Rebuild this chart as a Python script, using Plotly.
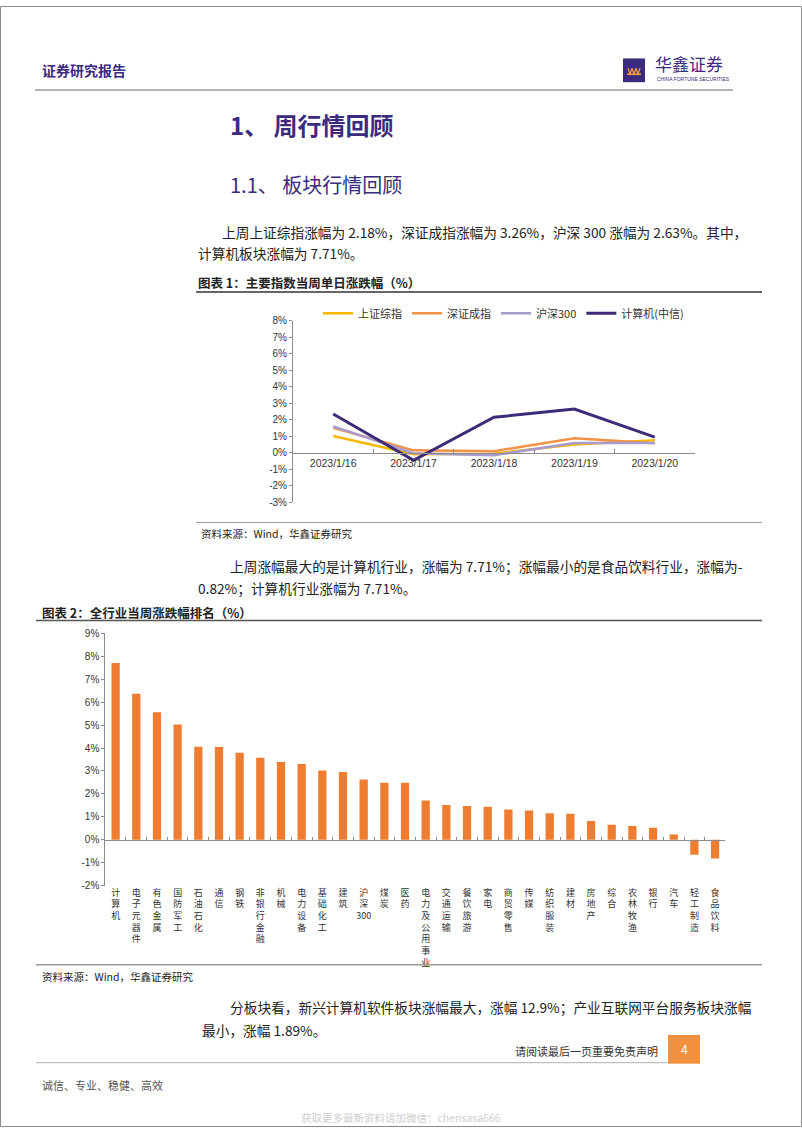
import plotly.graph_objects as go

W, H = 802, 1133


def px(x):
    return x / W


def py(y):
    return 1 - y / H


# ---------------- data ----------------
dates = ["2023/1/16", "2023/1/17", "2023/1/18", "2023/1/19", "2023/1/20"]
sh_composite = [1.02, -0.08, -0.05, 0.50, 0.76]
sz_component = [1.52, 0.15, 0.10, 0.88, 0.58]
csi300 = [1.60, -0.02, -0.15, 0.60, 0.60]
computer_citic = [2.35, -0.45, 2.15, 2.65, 0.95]

line_tick_vals = [8, 7, 6, 5, 4, 3, 2, 1, 0, -1, -2, -3]
line_tick_text = ["8%", "7%", "6%", "5%", "4%", "3%", "2%", "1%", "0%", "-1%", "-2%", "-3%"]

industries = ["计算机", "电子元器件", "有色金属", "国防军工", "石油石化", "通信", "钢铁",
              "非银行金融", "机械", "电力设备", "基础化工", "建筑", "沪深300", "煤炭", "医药",
              "电力及公用事业", "交通运输", "餐饮旅游", "家电", "商贸零售", "传媒", "纺织服装",
              "建材", "房地产", "综合", "农林牧渔", "银行", "汽车", "轻工制造", "食品饮料"]
weekly_change = [7.71, 6.37, 5.56, 5.03, 4.05, 4.04, 3.79, 3.58, 3.39, 3.30, 3.02, 2.96,
                 2.63, 2.49, 2.49, 1.71, 1.52, 1.47, 1.44, 1.32, 1.28, 1.16, 1.14, 0.82,
                 0.66, 0.60, 0.53, 0.23, -0.65, -0.82]

bar_tick_vals = [9, 8, 7, 6, 5, 4, 3, 2, 1, 0, -1, -2]
bar_tick_text = ["9%", "8%", "7%", "6%", "5%", "4%", "3%", "2%", "1%", "0%", "-1%", "-2%"]


def vertical_label(name):
    parts, buf = [], ""
    for ch in name:
        if ch.isdigit():
            buf += ch
        else:
            if buf:
                parts.append(buf)
                buf = ""
            parts.append(ch)
    if buf:
        parts.append(buf)
    return "<br>".join(parts)


industry_labels = [vertical_label(n) for n in industries]

# ---------------- styles ----------------
CJK = "Noto Sans CJK SC"
NUM = "Liberation Sans, Arial, sans-serif"
PURPLE = "#3B2A7E"
AXIS = "#8C8C8C"
TXT = "#222222"

fig = go.Figure()

# chart 1 lines
series = [
    ("上证综指", sh_composite, "#F5B800", 2.5),
    ("深证成指", sz_component, "#F39146", 2.5),
    ("沪深300", csi300, "#A79BCF", 2.5),
    ("计算机(中信)", computer_citic, "#3D2A78", 3),
]
for name, vals, color, w in series:
    fig.add_trace(go.Scatter(x=dates, y=vals, mode="lines", name=name,
                             line=dict(color=color, width=w),
                             xaxis="x", yaxis="y", hoverinfo="skip"))

# chart 2 bars
fig.add_trace(go.Bar(x=industry_labels, y=weekly_change, marker=dict(color="#EE7D31", line_width=0),
                     xaxis="x2", yaxis="y2", showlegend=False, hoverinfo="skip"))

# ---------------- layout ----------------
shapes = []


def hline(x0, x1, y, color, width=1):
    shapes.append(dict(type="line", xref="paper", yref="paper", x0=px(x0), x1=px(x1),
                       y0=py(y), y1=py(y), line=dict(color=color, width=width)))


# page frame
shapes.append(dict(type="rect", xref="paper", yref="paper", x0=px(0.5), x1=px(801.5),
                   y0=py(1132.5), y1=py(0.5), line=dict(color="#8a8a8a", width=1)))
hline(35, 733, 85, "#9a9a9a", 1.5)
hline(196, 762, 289, "#333333", 1.5)
hline(196, 762, 522, "#9a9a9a", 1)
hline(36, 762, 621, "#555555", 1.5)
hline(36, 762, 969, "#9a9a9a", 1.5)
hline(36, 668, 1068, "#b0b0b0", 1)
# page number box
shapes.append(dict(type="rect", xref="paper", yref="paper", x0=px(668), x1=px(700),
                   y0=py(1069), y1=py(1040), fillcolor="#F2913F", line=dict(width=0)))
# logo square
shapes.append(dict(type="rect", xref="paper", yref="paper", x0=px(623), x1=px(645),
                   y0=py(77), y1=py(53), fillcolor="#3B2A7D", line=dict(width=0)))


def P(x, y):
    return f"{px(x):.5f},{py(y):.5f}"


logo_path = ("M" + P(627, 69) + "L" + P(641, 69) +
             "M" + P(628, 63) + "L" + P(630, 69) + "L" + P(632, 63) +
             "M" + P(632, 63) + "L" + P(634, 69) + "L" + P(636, 63) +
             "M" + P(636, 63) + "L" + P(638, 69) + "L" + P(640, 63))
shapes.append(dict(type="path", xref="paper", yref="paper", path=logo_path,
                   line=dict(color="#F29A3A", width=1.3)))

annotations = []


def text(x, y, s, size, color=TXT, anchor="left", family=CJK, weight=None):
    f = dict(family=family, size=size, color=color)
    if weight:
        f["weight"] = weight
    annotations.append(dict(x=px(x), y=py(y), xref="paper", yref="paper", text=s,
                            showarrow=False, xanchor=anchor, yanchor="middle", font=f))


text(40, 65, "证券研究报告", 14, PURPLE, weight="bold")
text(653, 58, "华鑫证券", 17, PURPLE)
text(655, 73.5, "CHINA FORTUNE SECURITIES", 5, PURPLE, family=NUM)
text(228, 120, "1、 周行情回顾", 24, PURPLE, weight="bold")
text(228, 180, "1.1、 板块行情回顾", 20, PURPLE)
text(220, 228, "上周上证综指涨幅为 2.18%，深证成指涨幅为 3.26%，沪深 300 涨幅为 2.63%。其中，", 13.7)
text(196, 250, "计算机板块涨幅为 7.71%。", 13.7)
text(196, 279, "图表 1：主要指数当周单日涨跌幅（%）", 12.5, weight="bold")
text(199, 533, "资料来源：Wind，华鑫证券研究", 10.5)
text(228, 566, "上周涨幅最大的是计算机行业，涨幅为 7.71%；涨幅最小的是食品饮料行业，涨幅为-", 13.7)
text(196, 588, "0.82%；计算机行业涨幅为 7.71%。", 13.7)
text(40, 613, "图表 2：全行业当周涨跌幅排名（%）", 12.5, weight="bold")
text(40, 981, "资料来源：Wind，华鑫证券研究", 10.5)
text(228, 1012, "分板块看，新兴计算机软件板块涨幅最大，涨幅 12.9%；产业互联网平台服务板块涨幅", 13.7)
text(200, 1035, "最小，涨幅 1.89%。", 13.7)
text(660, 1056, "请阅读最后一页重要免责声明", 11, "#333333", anchor="right")
text(684, 1055, "4", 12, "#ffffff", anchor="center", family=NUM)
text(40, 1091, "诚信、专业、稳健、高效", 11, "#555555")
text(401, 1123, "获取更多最新资料请加微信：chensasa666", 10.5, "#cfcfcf", anchor="center")

fig.update_layout(
    width=W, height=H, autosize=False,
    margin=dict(l=0, r=0, t=0, b=0),
    paper_bgcolor="white", plot_bgcolor="white",
    shapes=shapes, annotations=annotations,
    bargap=0.6,
    legend=dict(orientation="h", x=px(318), y=py(296), xanchor="left", yanchor="top",
                font=dict(family=CJK, size=11, color="#333333"), bgcolor="rgba(0,0,0,0)",
                itemwidth=30, tracegroupgap=0),
    xaxis=dict(domain=[px(293), px(695)], type="category", range=[-0.5, 4.5],
               anchor="free", position=py(451.7), showline=True, linecolor=AXIS, linewidth=1,
               ticks="inside", tickson="boundaries", ticklen=4, tickcolor=AXIS,
               showgrid=False, zeroline=False,
               tickfont=dict(family=NUM, size=10.5, color="#333333")),
    yaxis=dict(domain=[py(501.7), py(318)], range=[-3, 8], anchor="x",
               showline=True, linecolor=AXIS, linewidth=1, ticks="outside", ticklen=3,
               tickcolor=AXIS, tickvals=line_tick_vals, ticktext=line_tick_text,
               showgrid=False, zeroline=False,
               tickfont=dict(family=NUM, size=10, color="#333333")),
    xaxis2=dict(domain=[px(105.3), px(725.4)], type="category", range=[-0.5, 29.5],
                anchor="free", position=py(842.7), showline=True, linecolor=AXIS, linewidth=1,
                ticks="inside", tickson="boundaries", ticklen=3, tickcolor=AXIS,
                showgrid=False, zeroline=False, tickangle=0, ticklabelstandoff=44,
                tickfont=dict(family=CJK, size=9, color="#333333")),
    yaxis2=dict(domain=[py(889.1), py(634)], range=[-2, 9], anchor="x2",
                showline=True, linecolor=AXIS, linewidth=1, ticks="outside", ticklen=3,
                tickcolor=AXIS, tickvals=bar_tick_vals, ticktext=bar_tick_text,
                showgrid=False, zeroline=False,
                tickfont=dict(family=NUM, size=10, color="#333333")),
)

fig.write_html("out.html")
